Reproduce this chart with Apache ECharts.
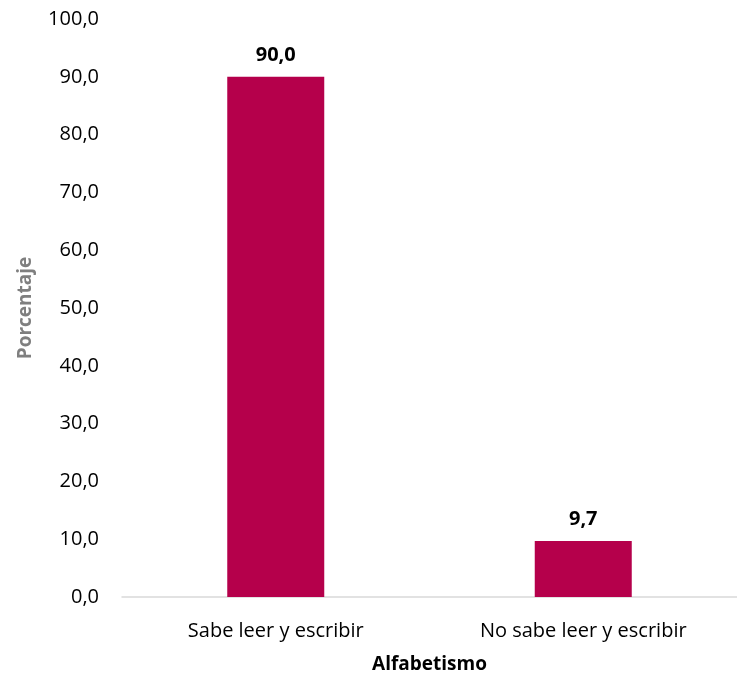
<!DOCTYPE html>
<html><head><meta charset="utf-8">
<script src="https://cdn.jsdelivr.net/npm/echarts@6/dist/echarts.min.js"></script>
<style>html,body{margin:0;padding:0;background:#fff;width:737px;height:674px;overflow:hidden}#c{width:737px;height:674px}</style>
</head><body><div id="c"></div>
<script>
const categories = ["Sabe leer y escribir", "No sabe leer y escribir"];
const values = [90.0, 9.7];
const yTicks = [0, 10, 20, 30, 40, 50, 60, 70, 80, 90, 100];
const FONT = "Open Sans";
const fmt = v => Number(v).toFixed(1).replace('.', ',');
const chart = echarts.init(document.getElementById('c'), null, {renderer: 'canvas', width: 737, height: 674});
chart.setOption({
  animation: false,
  textStyle: {fontFamily: FONT},
  grid: {left: 122, right: 0, top: 19, bottom: 77, containLabel: false, outerBoundsMode: 'none'},
  xAxis: {
    type: 'category', data: categories,
    axisLine: {lineStyle: {color: '#D9D9D9', width: 1.5}},
    axisTick: {show: false},
    axisLabel: {color: '#000', fontSize: 20, margin: 24, fontFamily: FONT},
    name: 'Alfabetismo', nameLocation: 'middle', nameGap: 58,
    nameTextStyle: {color: '#000', fontSize: 19, fontWeight: 'bold', fontFamily: FONT}
  },
  yAxis: {
    type: 'value', min: yTicks[0], max: yTicks[yTicks.length - 1], interval: 10,
    splitLine: {show: false}, axisLine: {show: false}, axisTick: {show: false},
    axisLabel: {color: '#000', fontSize: 20, margin: 23, formatter: fmt, fontFamily: FONT},
    name: 'Porcentaje', nameLocation: 'middle', nameGap: 87, nameRotate: 90,
    nameTextStyle: {color: '#7F7F7F', fontSize: 19, fontWeight: 'bold', fontFamily: FONT}
  },
  series: [{
    type: 'bar', data: values, barWidth: 97,
    itemStyle: {color: '#B5004B'},
    label: {show: true, position: 'top', distance: 12, formatter: p => fmt(p.value),
      color: '#000', fontSize: 20, fontWeight: 'bold', fontFamily: FONT}
  }]
});
</script></body></html>
